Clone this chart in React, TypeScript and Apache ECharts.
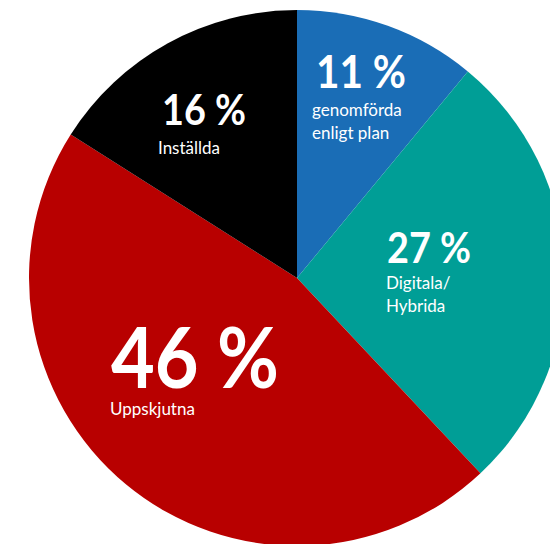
import React, { useEffect, useRef } from "react";
import * as echarts from "echarts";

const categories = ["genomförda enligt plan", "Digitala/Hybrida", "Uppskjutna", "Inställda"];
const values = [11, 27, 46, 16];
const colors = ["#1a6db6", "#009e96", "#b80000", "#000000"];
const labelLines = [["genomförda", "enligt plan"], ["Digitala/", "Hybrida"], ["Uppskjutna"], ["Inställda"]];
const numberPos = [[316, 88], [387, 263], [111, 387], [162, 125]];
const numberSizes = [45, 42, 84, 42];
const textPos = [[312, 114], [386, 287], [110, 413], [158, 152]];

export default function App() {
  const ref = useRef<HTMLDivElement>(null);
  useEffect(() => {
    if (!ref.current) return;
    const chart = echarts.init(ref.current, null, { renderer: "svg" });
    const graphics: any[] = [];
    values.forEach((v, i) => {
      graphics.push({
        type: "text",
        x: numberPos[i][0],
        y: numberPos[i][1] + Math.round(numberSizes[i] * 0.12),
        scaleX: 0.9,
        z: 10,
        style: {
          text: v + " %",
          fill: "#ffffff",
          font: `bold ${numberSizes[i]}px Lato`,
          textAlign: "left",
          textVerticalAlign: "bottom",
        },
      });
      graphics.push({
        type: "text",
        x: textPos[i][0],
        y: textPos[i][1] - 16,
        z: 10,
        style: {
          text: labelLines[i].join("\n"),
          fill: "#ffffff",
          font: "17px Lato",
          lineHeight: 23,
          textAlign: "left",
          textVerticalAlign: "top",
        },
      });
    });
    chart.setOption({
      animation: false,
      backgroundColor: "#ffffff",
      series: [
        {
          type: "pie",
          center: [297, 278],
          radius: 268,
          startAngle: 90,
          clockwise: true,
          label: { show: false },
          labelLine: { show: false },
          itemStyle: { borderWidth: 0 },
          emphasis: { disabled: true },
          data: values.map((v, i) => ({ value: v, name: categories[i], itemStyle: { color: colors[i] } })),
        },
      ],
      graphic: graphics,
    });
    return () => chart.dispose();
  }, []);
  return (
    <div
      ref={ref}
      style={{ position: "absolute", left: 0, top: 0, width: 550, height: 544, background: "#fff" }}
    />
  );
}
